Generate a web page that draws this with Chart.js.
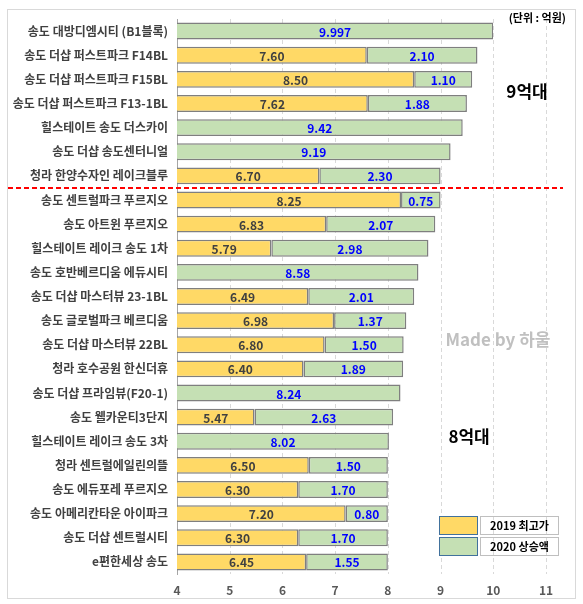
<!DOCTYPE html>
<html>
<head>
<meta charset="utf-8">
<script src="https://cdn.jsdelivr.net/npm/chart.js@4"></script>
<style>
  html, body { margin: 0; padding: 0; background: #fff; }
  #wrap { width: 583px; height: 604px; }
</style>
</head>
<body>
<div id="wrap"><canvas id="grafik"></canvas></div>
<script>
// 단지명
const complexes = [
    '송도 대방디엠시티 (B1블록)',
    '송도 더샵 퍼스트파크 F14BL',
    '송도 더샵 퍼스트파크 F15BL',
    '송도 더샵 퍼스트파크 F13-1BL',
    '힐스테이트 송도 더스카이',
    '송도 더샵 송도센터니얼',
    '청라 한양수자인 레이크블루',
    '송도 센트럴파크 푸르지오',
    '송도 아트윈 푸르지오',
    '힐스테이트 레이크 송도 1차',
    '송도 호반베르디움 에듀시티',
    '송도 더샵 마스터뷰 23-1BL',
    '송도 글로벌파크 베르디움',
    '송도 더샵 마스터뷰 22BL',
    '청라 호수공원 한신더휴',
    '송도 더샵 프라임뷰(F20-1)',
    '송도 웰카운티3단지',
    '힐스테이트 레이크 송도 3차',
    '청라 센트럴에일린의뜰',
    '송도 에듀포레 푸르지오',
    '송도 아메리칸타운 아이파크',
    '송도 더샵 센트럴시티',
    'e편한세상 송도'
];

// 2019 최고가 (억원), 없는 단지는 null
const price2019 = [null, 7.60, 8.50, 7.62, null, null, 6.70,
    8.25, 6.83, 5.79, null, 6.49, 6.98, 6.80, 6.40, null, 5.47, null,
    6.50, 6.30, 7.20, 6.30, 6.45];

// 2020 상승액 (억원)
const rise2020 = [9.997, 2.10, 1.10, 1.88, 9.42, 9.19, 2.30,
    0.75, 2.07, 2.98, 8.58, 2.01, 1.37, 1.50, 1.89, 8.24, 2.63, 8.02,
    1.50, 1.70, 0.80, 1.70, 1.55];

const xTicks = [4, 5, 6, 7, 8, 9, 10, 11];

const FONT = '"Noto Sans CJK KR", "Noto Sans", sans-serif';

// 소수 둘째 자리까지, 더 있으면 그대로
function fmt(v) {
    const c = v * 100;
    return Math.abs(Math.round(c) - c) < 1e-6 ? v.toFixed(2) : String(v);
}

// 점선 세로 눈금선
const gridPlugin = {
    id: 'dashGrid',
    beforeDatasetsDraw(chart) {
        const { ctx, chartArea } = chart;
        const x = chart.scales.x;
        ctx.save();
        ctx.strokeStyle = '#D9D9D9';
        ctx.lineWidth = 1;
        ctx.setLineDash([4, 3]);
        xTicks.slice(1).forEach(v => {
            const px = Math.round(x.getPixelForValue(v)) + 0.5;
            ctx.beginPath();
            ctx.moveTo(px, chartArea.top);
            ctx.lineTo(px, chartArea.bottom);
            ctx.stroke();
        });
        ctx.restore();
    }
};

// 막대 안쪽 값 표시
const labelPlugin = {
    id: 'barLabels',
    afterDatasetsDraw(chart) {
        const { ctx, chartArea } = chart;
        ctx.save();
        ctx.font = 'bold 12px ' + FONT;
        ctx.textAlign = 'center';
        ctx.textBaseline = 'middle';
        chart.data.datasets.forEach((ds, i) => {
            const meta = chart.getDatasetMeta(i);
            meta.data.forEach((bar, j) => {
                const v = ds.data[j];
                if (v === null || v === undefined) return;
                const p = bar.getProps(['x', 'y', 'base'], true);
                const a = Math.max(Math.min(p.x, p.base), chartArea.left);
                const b = Math.min(Math.max(p.x, p.base), chartArea.right);
                ctx.fillStyle = ds.labelColor;
                ctx.fillText(fmt(v), (a + b) / 2, p.y + 1);
            });
        });
        ctx.restore();
    }
};

// 테두리, 구분선, 문구, 범례
const decoPlugin = {
    id: 'deco',
    beforeDraw(chart) {
        const { ctx, width, height } = chart;
        ctx.save();
        ctx.fillStyle = '#fff';
        ctx.fillRect(0, 0, width, height);
        ctx.strokeStyle = '#D9D9D9';
        ctx.lineWidth = 1;
        ctx.strokeRect(7.5, 9.5, width - 15, height - 15);
        ctx.restore();
    },
    afterDraw(chart) {
        const { ctx } = chart;
        const x = chart.scales.x, y = chart.scales.y;
        ctx.save();

        // 9억대 / 8억대 구분선
        const yLine = y.getPixelForValue(6.5);
        ctx.strokeStyle = '#FF0000';
        ctx.lineWidth = 2;
        ctx.setLineDash([5, 3]);
        ctx.beginPath();
        ctx.moveTo(8, yLine);
        ctx.lineTo(563, yLine);
        ctx.stroke();
        ctx.setLineDash([]);

        ctx.textBaseline = 'middle';
        ctx.textAlign = 'right';
        ctx.fillStyle = '#000';
        ctx.font = 'bold 11px ' + FONT;
        ctx.fillText('(단위 : 억원)', 566, 18);

        ctx.textAlign = 'center';
        ctx.font = 'bold 17px ' + FONT;
        ctx.fillText('9억대', x.getPixelForValue(10.64), y.getPixelForValue(2.5));
        ctx.fillText('8억대', x.getPixelForValue(9.54), y.getPixelForValue(16.8));

        ctx.fillStyle = '#C0C0C0';
        ctx.font = 'bold 17px ' + FONT;
        ctx.fillText('Made by 하울', x.getPixelForValue(10.09), y.getPixelForValue(12.78));

        // 범례
        chart.data.datasets.forEach((ds, i) => {
            const top = 516 + i * 21;
            ctx.fillStyle = ds.backgroundColor;
            ctx.fillRect(439.5, top + 0.5, 38, 18);
            ctx.strokeStyle = '#41719C';
            ctx.lineWidth = 1;
            ctx.strokeRect(439.5, top + 0.5, 38, 18);
            ctx.strokeStyle = '#BFBFBF';
            ctx.strokeRect(480.5, top + 0.5, 78, 18);
            ctx.fillStyle = '#000';
            ctx.font = 'bold 11px ' + FONT;
            ctx.fillText(ds.label, 519.5, top + 10);
        });
        ctx.restore();
    }
};

const config = {
    type: 'bar',
    data: {
        labels: complexes,
        datasets: [{
            label: '2019 최고가',
            data: price2019,
            backgroundColor: '#FFD966',
            borderColor: '#7F7F7F',
            borderWidth: 1.5,
            borderSkipped: false,
            labelColor: '#404040'
        }, {
            label: '2020 상승액',
            data: rise2020,
            backgroundColor: '#C5E0B4',
            borderColor: '#7F7F7F',
            borderWidth: 1.5,
            borderSkipped: false,
            labelColor: '#0000FF'
        }]
    },
    options: {
        indexAxis: 'y',
        responsive: true,
        maintainAspectRatio: false,
        animation: false,
        devicePixelRatio: 1,
        layout: {
            padding: { left: 7, right: 37, top: 19, bottom: 5 }
        },
        datasets: {
            bar: { categoryPercentage: 1, barPercentage: 0.7 }
        },
        plugins: {
            legend: { display: false },
            tooltip: { enabled: false }
        },
        scales: {
            x: {
                stacked: true,
                min: 4,
                max: 11,
                afterBuildTicks(scale) {
                    scale.ticks = xTicks.map(v => ({ value: v }));
                },
                afterFit(scale) { scale.height = 25; },
                grid: { display: false, drawTicks: false },
                border: { display: false },
                ticks: {
                    padding: 9,
                    color: '#595959',
                    font: { family: FONT, size: 12, weight: 'bold' }
                }
            },
            y: {
                stacked: true,
                afterFit(scale) { scale.width = 170; },
                grid: { display: false, drawTicks: false },
                border: { display: true, color: '#A6A6A6', width: 1 },
                ticks: {
                    padding: 9,
                    color: '#404040',
                    autoSkip: false,
                    font: { family: FONT, size: 12, weight: 'bold' }
                }
            }
        }
    },
    plugins: [decoPlugin, gridPlugin, labelPlugin]
};

const ctx = document.getElementById('grafik').getContext('2d');
new Chart(ctx, config);
</script>
</body>
</html>
